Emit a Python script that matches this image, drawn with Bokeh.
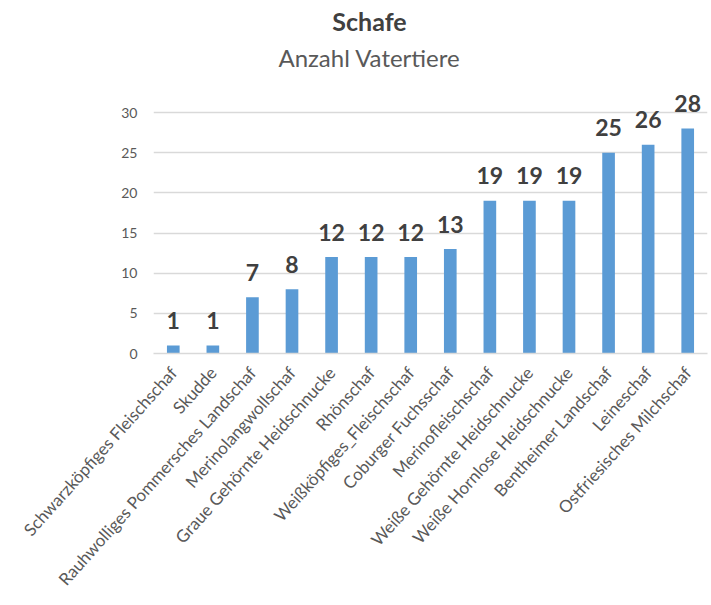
from bokeh.plotting import figure
from bokeh.models import ColumnDataSource, FixedTicker, Range1d
from bokeh.core.properties import value
from bokeh.embed import file_html
from bokeh.resources import INLINE

categories = [
    "Schwarzköpfiges Fleischschaf",
    "Skudde",
    "Rauhwolliges Pommersches Landschaf",
    "Merinolangwollschaf",
    "Graue Gehörnte Heidschnucke",
    "Rhönschaf",
    "Weißköpfiges_Fleischschaf",
    "Coburger Fuchsschaf",
    "Merinofleischschaf",
    "Weiße Gehörnte Heidschnucke",
    "Weiße Hornlose Heidschnucke",
    "Bentheimer Landschaf",
    "Leineschaf",
    "Ostfriesisches Milchschaf",
]
vatertiere = [1, 1, 7, 8, 12, 12, 12, 13, 19, 19, 19, 25, 26, 28]
y_ticks = [0, 5, 10, 15, 20, 25, 30]
title_text = "Schafe"
subtitle_text = "Anzahl Vatertiere"

FONT = "Lato"
BAR_COLOR = "#5B9BD5"
GRID_COLOR = "#D9D9D9"
TEXT_GREY = "#595959"
LABEL_DARK = "#404040"

W, H = 711, 605
frame_left, frame_right = 153, 707
frame_bottom = 353
y30_pix = 112
ppu = (frame_bottom - y30_pix) / 30.0
y_top = frame_bottom / ppu

source = ColumnDataSource(data=dict(
    cat=categories,
    val=vatertiere,
    txt=[str(v) for v in vatertiere],
))

p = figure(
    x_range=categories,
    y_range=Range1d(0, y_top),
    width=W,
    height=H,
    output_backend="svg",
    toolbar_location=None,
    min_border_left=frame_left,
    min_border_right=W - frame_right,
    min_border_top=0,
    min_border_bottom=H - frame_bottom,
)
p.x_range.range_padding = 0
p.outline_line_color = None
p.background_fill_color = "white"
p.border_fill_color = "white"

p.vbar(x="cat", top="val", width=0.32, source=source,
       fill_color=BAR_COLOR, line_color=None)

p.text(x="cat", y="val", text="txt", source=source,
       text_font=value(FONT), text_font_style="bold",
       text_font_size="23px", text_color=LABEL_DARK,
       text_align="center", text_baseline="middle", y_offset=-25)

# titles (positioned within the extended frame)
x_title = (369 - frame_left) / ((frame_right - frame_left) / len(categories))
p.text(x=[x_title], y=[(frame_bottom - 20) / ppu], text=[title_text],
       text_font=value(FONT), text_font_style="bold", text_font_size="25px",
       text_color=LABEL_DARK, text_align="center", text_baseline="middle")
p.text(x=[x_title], y=[(frame_bottom - 57) / ppu], text=[subtitle_text],
       text_font=value(FONT), text_font_size="24px",
       text_color=TEXT_GREY, text_align="center", text_baseline="middle")

# axes
p.yaxis.ticker = FixedTicker(ticks=y_ticks)
p.yaxis.axis_line_color = None
p.yaxis.major_tick_line_color = None
p.yaxis.minor_tick_line_color = None
p.yaxis.major_tick_out = 0
p.yaxis.major_label_standoff = 16
p.yaxis.major_label_text_font = FONT
p.yaxis.major_label_text_font_size = "14px"
p.yaxis.major_label_text_color = TEXT_GREY

p.ygrid.ticker = FixedTicker(ticks=y_ticks)
p.ygrid.grid_line_color = GRID_COLOR
p.ygrid.grid_line_width = 1.5
p.xgrid.grid_line_color = None

p.xaxis.axis_line_color = GRID_COLOR
p.xaxis.axis_line_width = 1.5
p.xaxis.major_tick_line_color = None
p.xaxis.minor_tick_line_color = None
p.xaxis.major_tick_out = 0
p.xaxis.major_label_orientation = 0.84
p.xaxis.major_label_standoff = 16
p.xaxis.major_label_text_font = FONT
p.xaxis.major_label_text_font_size = "17px"
p.xaxis.major_label_text_color = TEXT_GREY

open("out.html", "w").write(file_html(p, INLINE))
